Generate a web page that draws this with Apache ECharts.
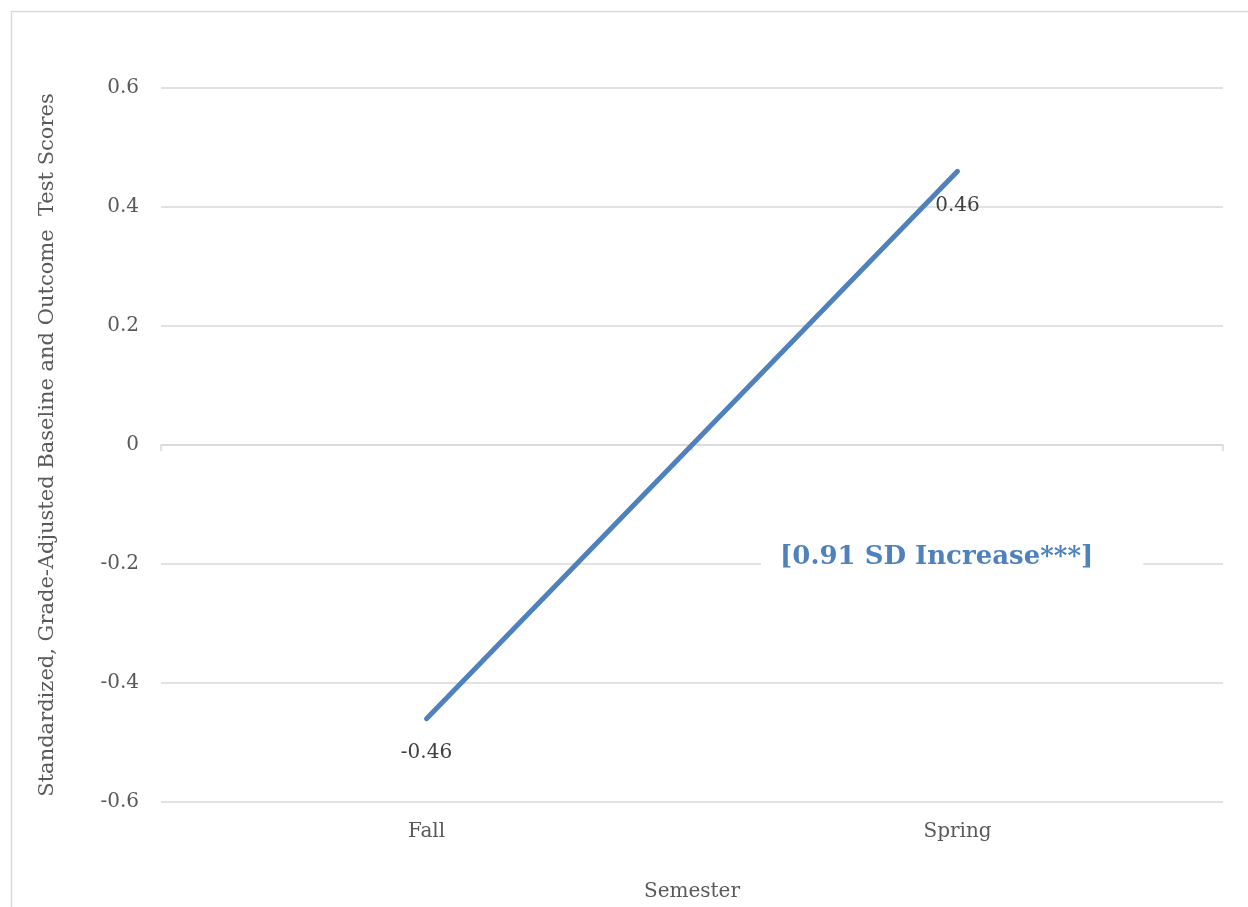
<!DOCTYPE html>
<html>
<head>
<meta charset="utf-8">
<script src="https://cdn.jsdelivr.net/npm/echarts@6/dist/echarts.min.js"></script>
<style>
  html, body { margin: 0; padding: 0; background: #fff; overflow: hidden; }
  #chart { width: 1248px; height: 907px; }
</style>
</head>
<body>
<div id="chart"></div>
<script>
// Semester means of standardized, grade-adjusted test scores
const semesters = ['Fall', 'Spring'];
const scores = [-0.46, 0.46];
const yTicks = [-0.6, -0.4, -0.2, 0, 0.2, 0.4, 0.6];
const note = '[0.91 SD Increase***]';

const FONT = 'DejaVu Serif';
const TEXT = '#595959';
const GRID = '#d9d9d9';
const BLUE = '#4f81bd';

const chart = echarts.init(document.getElementById('chart'));

chart.setOption({
  animation: false,
  backgroundColor: '#fff',
  textStyle: { fontFamily: FONT },
  grid: { left: 161, right: 25, top: 88, bottom: 88, containLabel: false },
  title: {
    text: note,
    left: 761,
    top: 540,
    backgroundColor: '#fff',
    padding: [4, 50, 4, 19],
    textStyle: { fontFamily: FONT, fontWeight: 'bold', fontSize: 26, color: BLUE }
  },
  graphic: [{
    type: 'rect',
    shape: { x: 11.5, y: 11.5, width: 1400, height: 1000 },
    style: { fill: 'none', stroke: GRID, lineWidth: 1.5 },
    silent: true,
    z: -10
  }],
  xAxis: [{
    type: 'category',
    data: semesters,
    position: 'bottom',
    axisLine: { show: false },
    axisTick: { show: false },
    axisLabel: { color: TEXT, fontSize: 20, margin: 20 },
    name: 'Semester',
    nameLocation: 'middle',
    nameGap: 80,
    nameTextStyle: { color: TEXT, fontSize: 20 }
  }, {
    type: 'category',
    data: semesters,
    position: 'bottom',
    axisLine: { show: true, onZero: true, onZeroAxisIndex: 0, lineStyle: { color: GRID, width: 1.5 } },
    axisTick: { show: true, length: 6, lineStyle: { color: GRID, width: 1.5 } },
    axisLabel: { show: false }
  }],
  yAxis: {
    type: 'value',
    min: yTicks[0],
    max: yTicks[yTicks.length - 1],
    interval: 0.2,
    axisLine: { show: false },
    axisTick: { show: false },
    splitLine: { lineStyle: { color: GRID, width: 1.5 } },
    axisLabel: {
      color: TEXT, fontSize: 20, margin: 22,
      formatter: v => {
        const r = Math.round(v * 10) / 10;
        return r === 0 ? '0' : String(r);
      }
    },
    name: 'Standardized, Grade-Adjusted Baseline and Outcome  Test Scores',
    nameLocation: 'middle',
    nameGap: 103,
    nameTextStyle: { color: TEXT, fontSize: 21 }
  },
  series: [{
    type: 'line',
    data: scores,
    xAxisIndex: 0,
    symbol: 'circle',
    symbolSize: 1,
    showSymbol: true,
    itemStyle: { color: BLUE },
    lineStyle: { color: BLUE, width: 5, cap: 'round' },
    label: {
      show: true,
      position: 'bottom',
      distance: 24,
      color: '#404040',
      fontSize: 20,
      formatter: p => p.value.toFixed(2)
    },
    z: 5
  }]
});
</script>
</body>
</html>
